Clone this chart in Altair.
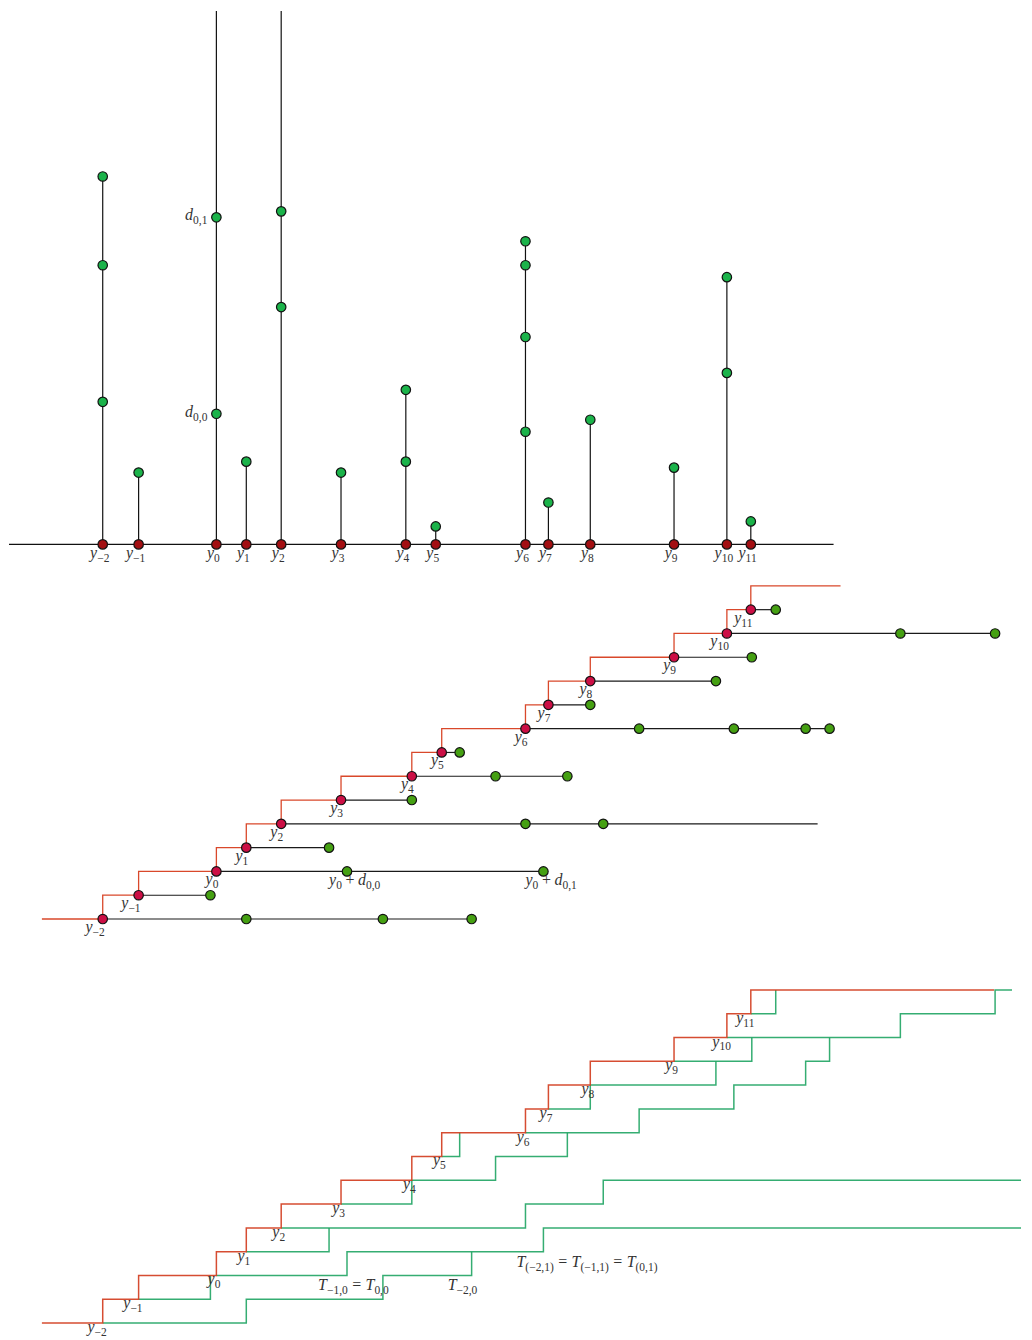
import altair as alt
import pandas as pd

# ---------------- data ----------------
idx = list(range(-2, 12))
subs = ["−2", "−1", "0", "1", "2", "3", "4", "5", "6", "7", "8", "9", "10", "11"]

# top panel: positions of y_i on the line and the stem values d_{i,k}
top_pos = [103, 139, 217, 247, 282, 342, 407, 437, 527, 550, 592, 676, 729, 753]
top_d = [[143, 280, 369], [72], [131, 328], [83], [238, 334], [72], [83, 155], [18],
         [113, 208, 280, 304], [42], [125], [77], [172, 268], [23]]
top_open = [False, False, True, False, True, False, False, False, False, False, False, False, False, False]
axis_end = 836

# middle / bottom panels: positions of y_i and of the points y_i + d_{i,k}
stair_pos = [103, 139, 217, 247, 282, 342, 413, 443, 527, 550, 592, 676, 729, 753]
stair_green = [[247, 384, 473], [211], [348, 545], [330], [527, 605], [413], [497, 569], [461],
               [641, 736, 808, 832], [592], [718], [754], [903, 998], [778]]
row_end = [473, 211, 545, 330, 820, 413, 569, 461, 832, 592, 718, 754, 998, 778]
path_open = [False, False, True, False, True, False, False, False, False, False, False, False, False, False]
path_tail = {10: 1015}
red_start = 42
mid_red_end = 843
bot_red_end = 997

# annotations: (pieces, left x, level)
mid_notes = [
    ([("y", "it"), ("0", "sub"), ("", "op"), ("+", "rm"), ("", "op"), ("d", "it"), ("0,0", "sub")], 330, 0),
    ([("y", "it"), ("0", "sub"), ("", "op"), ("+", "rm"), ("", "op"), ("d", "it"), ("0,1", "sub")], 527, 0),
]
bot_notes = [
    ([("T", "it"), ("−1,0", "sub"), ("", "rel"), ("=", "rm"), ("", "rel"), ("T", "it"), ("0,0", "sub")], 319, 0),
    ([("T", "it"), ("−2,0", "sub")], 449, 0),
    ([("T", "it"), ("(−2,1)", "sub"), ("", "rel"), ("=", "rm"), ("", "rel"), ("T", "it"), ("(−1,1)", "sub"),
      ("", "rel"), ("=", "rm"), ("", "rel"), ("T", "it"), ("(0,1)", "sub")], 518, 1),
]

# ---------------- scales / styling ----------------
W = 1016
XMIN, XMAX = 8, 1024
XS = alt.Scale(domain=[XMIN, XMAX], nice=False, zero=False)
FONT = "Liberation Serif"
TXT = "#333333"
FS = 16
FSS = 11.5
EM = {"y": 0.444, "d": 0.5, "T": 0.556, "−": 0.564, ",": 0.25, "(": 0.333, ")": 0.333,
      "=": 0.564, "+": 0.564}
GAP = {"op": 3.6, "rel": 4.4}


def X(field="x"):
    return alt.X(f"{field}:Q", scale=XS, axis=None)


def piece_rows(parts, x, y, align):
    size = {"it": FS, "rm": FS, "sub": FSS}
    widths = []
    for t, k in parts:
        if k in GAP:
            widths.append(GAP[k])
        else:
            widths.append(sum(EM.get(c, 0.5) for c in t) * size[k])
    total = sum(widths)
    cx = x - total if align == "right" else (x - total / 2 if align == "center" else x)
    rows = []
    for (t, k), w in zip(parts, widths):
        if k not in GAP:
            rows.append({"x": cx, "y": y, "t": t, "k": k})
        cx += w
    return rows


def text_layers(rows, yenc, dy):
    df = pd.DataFrame(rows)
    out = []
    for k, size, style, extra in [("it", FS, "italic", 0), ("rm", FS, "normal", 0), ("sub", FSS, "normal", 4)]:
        part = df[df["k"] == k]
        if len(part) == 0:
            continue
        out.append(alt.Chart(part).mark_text(font=FONT, fontSize=size, fontStyle=style, color=TXT,
                                             align="left", baseline="alphabetic", dy=dy + extra)
                   .encode(x=X(), y=yenc, text="t:N"))
    return out


def point_layer(df, yenc, fill):
    return alt.Chart(df).mark_point(filled=True, shape="circle", size=90, fill=fill, stroke="#111",
                                    strokeWidth=1.2, opacity=1).encode(x=X(), y=yenc)


# ---------------- top panel ----------------
TOP_MIN, TOP_MAX = -23, 535
YT = alt.Scale(domain=[TOP_MIN, TOP_MAX], nice=False, zero=False)
ytop = alt.Y("y:Q", scale=YT, axis=None)

axis_df = pd.DataFrame({"x": [XMIN + 1], "x2": [axis_end], "y": [0]})
stem_df = pd.DataFrame({"x": top_pos, "y": [0] * len(top_pos),
                        "y2": [TOP_MAX if o else max(d) for d, o in zip(top_d, top_open)]})
tg_df = pd.DataFrame([{"x": p, "y": v} for p, ds in zip(top_pos, top_d) for v in ds])
tr_df = pd.DataFrame({"x": top_pos, "y": [0] * len(top_pos)})

top_lab = []
for p, s in zip(top_pos, subs):
    top_lab += piece_rows([("y", "it"), (s, "sub")], p - 3, 0, "center")
d_lab = []
for v, s in zip(top_d[2], ["0,0", "0,1"]):
    d_lab += piece_rows([("d", "it"), (s, "sub")], top_pos[2] - 9, v, "right")

top = alt.layer(
    alt.Chart(axis_df).mark_rule(color="#111", strokeWidth=1.2).encode(x=X(), x2="x2:Q", y=ytop),
    alt.Chart(stem_df).mark_rule(color="#111", strokeWidth=1.2).encode(x=X(), y=ytop, y2="y2:Q"),
    point_layer(tr_df, ytop, "#a30f12"),
    point_layer(tg_df, ytop, "#1bb34a"),
    *text_layers(top_lab, ytop, 14),
    *text_layers(d_lab, ytop, 3),
).properties(width=W, height=558)

# ---------------- middle panel ----------------
YM = alt.Scale(domain=[-3.98, 12.78], nice=False, zero=False)
ymid = alt.Y("y:Q", scale=YM, axis=None)


def red_path(end):
    pts = [(red_start, idx[0])]
    for p, i in zip(stair_pos, idx):
        pts.append((p, i))
        pts.append((p, i + 1))
    pts.append((end, idx[-1] + 1))
    return pd.DataFrame({"x": [a for a, b in pts], "y": [b for a, b in pts], "o": list(range(len(pts)))})


rows_df = pd.DataFrame({"x": stair_pos, "x2": row_end, "y": idx})
mr_df = pd.DataFrame({"x": stair_pos, "y": idx})
mg_df = pd.DataFrame([{"x": g, "y": i} for i, gs in zip(idx, stair_green) for g in gs])

mid_lab = []
for p, i, s in zip(stair_pos, idx, subs):
    mid_lab += piece_rows([("y", "it"), (s, "sub")], p + 2, i, "right")
mid_note_rows = []
for parts, x0, lev in mid_notes:
    mid_note_rows += piece_rows(parts, x0, lev, "left")

mid = alt.layer(
    alt.Chart(red_path(mid_red_end)).mark_line(color="#d9482b", strokeWidth=1.3).encode(
        x=X(), y=ymid, order="o:Q"),
    alt.Chart(rows_df).mark_rule(color="#1a1a1a", strokeWidth=1.2).encode(x=X(), x2="x2:Q", y=ymid),
    point_layer(mr_df, ymid, "#cc0f45"),
    point_layer(mg_df, ymid, "#45a012"),
    *text_layers(mid_lab, ymid, 13),
    *text_layers(mid_note_rows, ymid, 14),
).properties(width=W, height=400)

# ---------------- bottom panel ----------------
YB = alt.Scale(domain=[-2.335, 13.0], nice=False, zero=False)
ybot = alt.Y("y:Q", scale=YB, axis=None)

gp = []
for i, p, gs, op in zip(idx, stair_pos, stair_green, path_open):
    pts = [(p, i)]
    lev = i
    for g in gs:
        pts.append((g, lev))
        lev += 1
        pts.append((g, lev))
    if op:
        pts.append((XMAX, lev))
    elif i in path_tail:
        pts.append((path_tail[i], lev))
    for o, (a, b) in enumerate(pts):
        gp.append({"x": a, "y": b, "o": o, "path": str(i)})
gp_df = pd.DataFrame(gp)

bot_lab = []
for p, i, s in zip(stair_pos, idx, subs):
    bot_lab += piece_rows([("y", "it"), (s, "sub")], p + 4, i, "right")
bot_note_rows = []
for parts, x0, lev in bot_notes:
    bot_note_rows += piece_rows(parts, x0, lev, "left")

bot = alt.layer(
    alt.Chart(gp_df).mark_line(color="#1fa463", strokeWidth=1.5, opacity=0.9).encode(
        x=X(), y=ybot, order="o:Q", detail="path:N"),
    alt.Chart(red_path(bot_red_end)).mark_line(color="#d23a1c", strokeWidth=1.5, opacity=0.9).encode(
        x=X(), y=ybot, order="o:Q"),
    *text_layers(bot_lab, ybot, 9),
    *text_layers(bot_note_rows, ybot, 15),
).properties(width=W, height=366)

chart = alt.vconcat(top, mid, bot, spacing=0, bounds="flush", padding=0).properties(
    autosize=alt.AutoSizeParams(type="pad")
).configure_view(stroke=None)

chart.save("out.html", embed_options={"renderer": "svg", "actions": False})
